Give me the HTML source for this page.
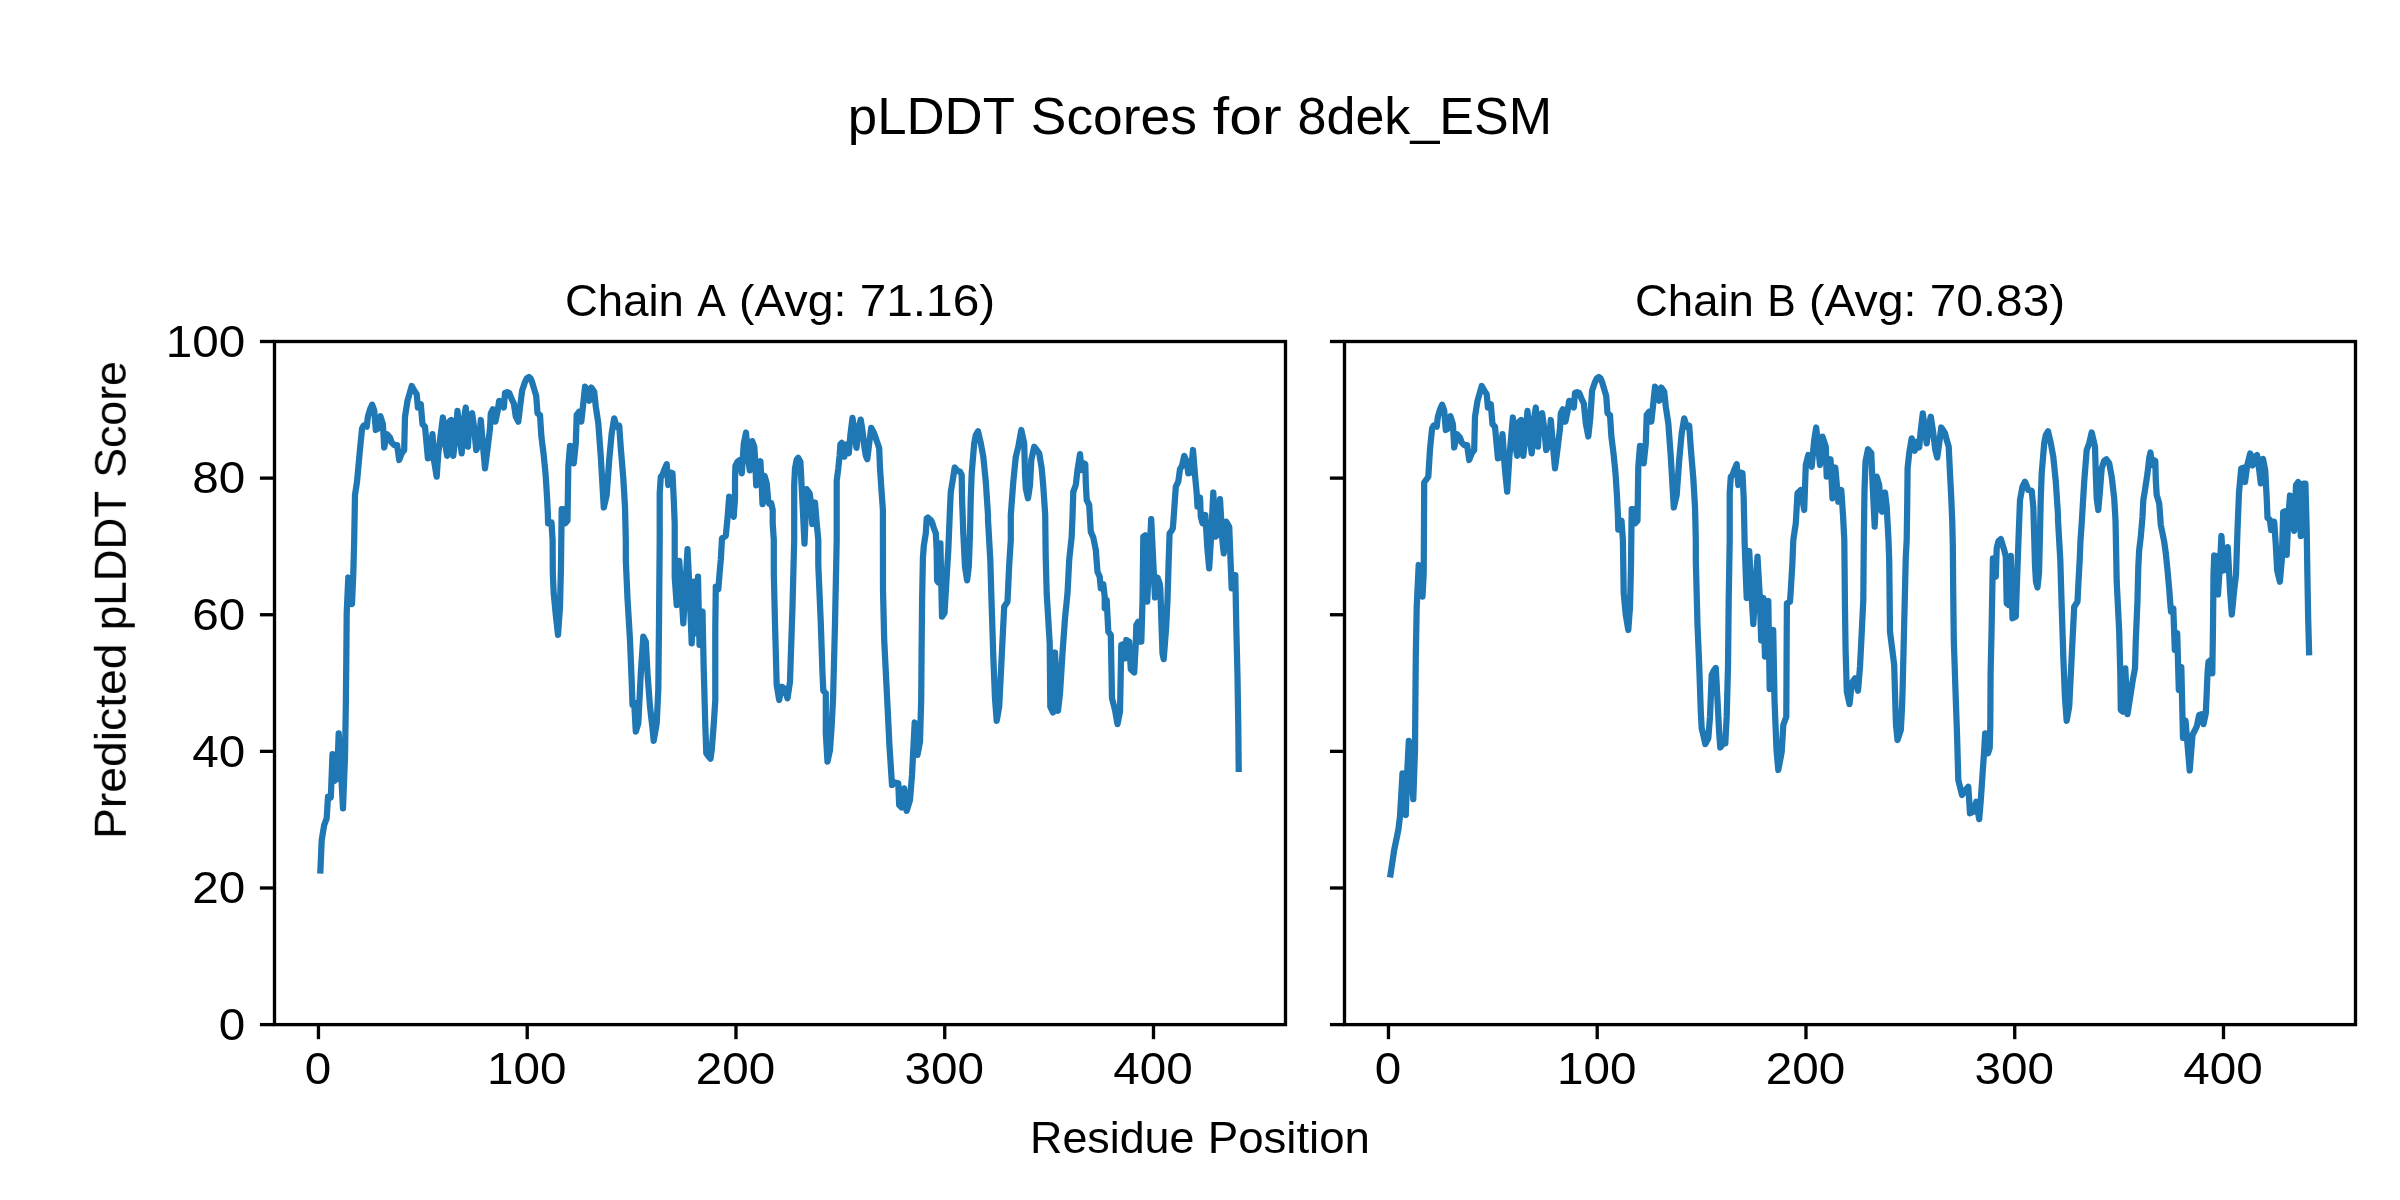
<!DOCTYPE html>
<html><head><meta charset="utf-8"><title>pLDDT Scores for 8dek_ESM</title>
<style>html,body{margin:0;padding:0;background:#fff}body{width:2400px;height:1200px;overflow:hidden}svg{display:block}text{font-family:"Liberation Sans",sans-serif;fill:#000}</style></head><body>
<svg width="2400" height="1200" viewBox="0 0 2400 1200">
<rect x="0" y="0" width="2400" height="1200" fill="#ffffff"/>
<polyline points="320.4,870.4 321.7,840.0 324.2,825.0 326.7,818.3 328.0,796.7 330.8,797.5 332.5,754.2 334.5,780.8 337.0,778.3 338.7,733.3 340.8,766.7 343.0,808.3 345.0,756.7 345.8,706.7 346.3,660.0 346.7,613.3 348.3,577.5 350.0,591.7 352.0,604.2 353.3,573.3 354.2,540.0 355.0,495.0 357.0,481.7 360.0,449.2 362.1,428.3 363.8,425.4 366.7,426.7 367.9,416.7 370.0,409.6 372.1,404.7 374.2,410.4 375.8,430.0 378.3,428.3 380.4,416.2 382.9,424.2 384.2,447.5 387.1,434.2 390.0,437.5 391.7,442.5 394.2,445.0 397.1,445.0 399.2,460.0 401.7,453.3 404.2,450.0 405.0,416.7 407.5,400.8 411.7,386.0 414.2,390.4 416.7,394.2 417.9,407.5 420.8,404.2 422.5,424.2 425.0,426.7 426.7,445.0 427.9,458.3 430.0,457.5 432.5,434.2 434.2,461.7 436.7,476.7 438.3,453.3 442.9,417.5 445.0,442.5 447.1,455.8 449.2,421.7 451.2,420.0 453.3,455.8 455.4,436.7 457.5,410.8 459.6,436.7 461.7,453.3 463.8,420.0 465.8,407.5 467.9,446.7 470.0,415.0 472.1,413.3 474.2,428.3 476.2,450.0 478.8,445.0 480.8,420.0 482.9,445.0 485.0,468.3 487.5,449.2 490.0,428.3 490.8,413.3 492.9,409.2 495.4,421.7 497.5,411.7 499.2,400.8 501.7,403.3 503.8,407.5 505.0,392.9 507.1,392.1 509.2,392.9 511.7,399.2 513.8,403.3 515.8,416.7 518.3,421.7 520.0,407.5 522.1,390.8 525.0,382.1 526.8,378.3 528.8,377.0 530.5,378.3 531.8,381.2 534.2,389.2 536.2,395.8 537.5,413.3 540.0,415.0 541.4,436.7 543.5,453.3 545.2,470.0 545.8,477.5 547.1,498.3 547.9,515.0 548.1,523.3 551.5,522.5 552.6,540.0 552.8,573.3 553.7,593.3 555.8,615.0 558.0,635.0 560.0,606.7 561.0,565.0 561.3,540.0 561.7,509.2 563.3,509.2 565.3,523.3 567.5,520.8 568.3,466.7 570.0,445.8 572.0,446.7 573.7,463.3 575.8,443.3 576.7,415.0 579.2,411.7 581.3,421.7 583.3,403.3 585.0,386.7 587.2,390.0 589.2,400.8 591.3,387.5 594.2,391.7 595.8,406.7 598.3,423.3 600.8,456.7 603.8,507.5 606.7,495.0 609.2,460.0 611.7,433.3 614.2,418.3 616.7,426.7 619.2,425.8 620.8,448.3 623.3,478.3 625.0,506.7 625.8,540.0 625.8,560.0 627.5,598.3 630.0,640.0 631.7,681.7 632.5,705.0 634.2,702.5 635.8,731.7 638.3,723.3 640.8,673.3 643.3,636.7 645.8,641.7 647.5,673.3 650.0,706.7 652.5,728.3 653.7,740.8 656.7,723.3 658.3,690.0 659.0,623.3 659.7,540.0 659.7,493.3 660.8,476.7 662.5,475.0 664.2,470.0 666.7,464.2 668.3,485.0 670.3,472.5 672.5,473.3 673.7,498.3 674.7,523.3 674.7,576.7 676.7,605.0 679.2,560.8 681.3,590.0 683.3,623.3 685.3,590.0 687.5,549.2 689.7,593.3 691.7,643.3 693.8,581.7 695.5,633.3 698.0,576.7 699.5,645.0 702.5,611.7 703.7,668.3 705.3,725.0 706.3,753.3 708.0,755.8 710.5,758.7 711.7,750.0 713.7,725.0 715.3,700.0 715.3,626.7 715.8,586.7 718.3,589.2 720.0,568.3 720.8,560.0 722.0,538.3 725.8,535.8 727.5,518.3 729.2,496.7 731.3,510.0 733.7,516.7 735.0,498.3 735.0,480.8 735.4,465.8 737.5,461.7 739.8,460.0 741.8,473.3 743.8,443.3 746.0,432.5 747.9,456.7 749.8,470.4 752.3,441.2 754.3,446.7 755.4,464.2 756.2,485.4 758.3,470.0 760.4,461.2 761.7,485.0 762.5,504.2 764.6,475.8 766.7,483.3 768.3,501.7 769.3,503.8 771.2,503.3 772.7,510.0 772.7,523.3 773.8,540.0 773.8,573.3 775.0,623.3 776.7,685.0 779.2,700.0 781.7,686.7 784.2,688.3 787.5,698.3 790.0,681.7 790.8,656.7 792.5,606.7 794.2,540.0 794.2,485.0 795.0,468.3 796.7,459.6 798.2,457.9 800.4,461.7 802.5,503.0 804.5,543.6 806.7,489.2 809.6,493.3 810.8,501.7 812.3,524.0 815.0,502.5 816.7,523.3 818.3,540.0 818.3,565.0 820.8,623.3 822.5,673.3 823.3,690.8 825.8,693.3 825.8,733.3 827.5,761.7 830.0,750.0 831.7,725.0 833.0,700.0 833.3,690.0 835.0,623.3 836.7,540.0 836.7,480.8 838.3,468.3 839.6,455.8 840.4,444.2 841.8,442.9 844.4,456.8 846.5,444.3 848.8,453.3 850.4,435.0 852.5,417.9 854.6,435.0 856.5,447.9 858.8,426.7 860.7,419.6 862.5,430.8 864.2,445.8 865.8,455.8 867.3,459.2 869.2,443.3 871.2,427.9 873.8,432.5 875.8,438.3 877.9,444.2 879.2,448.3 880.0,468.3 881.7,493.3 882.9,510.0 883.0,590.0 884.2,640.0 886.7,690.0 889.2,740.0 889.2,741.7 892.0,785.0 895.0,782.5 898.3,783.3 899.2,805.0 901.7,807.5 904.2,788.3 906.7,810.8 910.0,800.0 912.0,775.0 914.7,722.5 916.7,726.7 917.5,755.0 920.0,741.7 921.2,700.0 921.6,650.0 922.1,600.0 922.9,558.3 923.8,545.8 925.8,533.3 926.7,518.3 927.9,517.5 930.8,520.0 932.1,522.5 934.2,529.2 935.8,533.3 936.7,550.0 937.1,580.8 938.3,582.5 940.4,543.3 942.0,616.7 944.5,613.0 946.5,580.0 948.3,550.0 950.0,508.3 950.4,500.0 950.8,491.7 952.5,481.7 954.7,467.5 957.5,470.8 960.0,471.7 961.7,475.0 962.1,500.0 963.3,533.3 965.0,566.7 967.1,580.4 968.8,566.7 970.0,533.3 970.7,500.0 971.7,473.3 974.2,443.3 975.8,435.0 978.0,431.3 980.8,443.3 983.3,456.7 985.8,481.7 988.0,515.0 988.0,520.0 990.3,560.0 991.5,600.0 993.3,656.7 995.0,698.3 996.7,720.8 999.2,706.7 1001.7,656.7 1004.2,606.7 1007.5,601.7 1009.2,565.0 1010.8,540.0 1010.8,515.0 1013.3,481.7 1015.8,456.7 1018.3,446.7 1021.3,430.0 1024.2,443.3 1025.0,473.3 1025.8,488.3 1028.0,498.3 1030.0,485.0 1031.3,460.0 1034.2,446.7 1036.7,450.0 1039.2,453.3 1041.7,468.3 1043.3,486.7 1045.2,514.7 1045.7,556.7 1046.7,593.3 1049.7,643.3 1050.3,706.7 1053.0,712.5 1055.0,652.5 1058.0,710.8 1060.0,693.3 1062.5,653.3 1065.0,618.3 1067.5,593.3 1069.2,560.0 1071.7,536.7 1072.5,516.7 1073.3,491.7 1075.8,485.0 1077.5,470.0 1080.0,454.2 1081.7,470.0 1083.7,463.3 1085.3,464.2 1085.8,483.3 1086.7,500.0 1089.2,505.0 1090.8,531.7 1093.3,537.5 1095.8,550.0 1097.5,571.7 1099.7,576.7 1100.8,588.3 1103.3,584.2 1104.7,596.7 1104.7,608.3 1106.7,600.0 1108.3,631.7 1110.8,635.0 1112.0,698.3 1115.0,710.0 1117.5,724.2 1120.0,711.7 1121.3,645.0 1123.3,644.2 1125.0,658.3 1126.3,640.0 1129.2,641.7 1130.8,669.2 1134.2,672.5 1135.8,643.3 1136.3,625.0 1138.3,621.7 1139.7,641.7 1141.3,641.7 1142.5,601.7 1143.3,536.7 1145.3,535.4 1147.2,601.7 1151.2,519.2 1155.0,597.5 1157.5,577.5 1159.6,583.3 1160.3,588.3 1161.3,618.3 1162.5,653.3 1163.7,659.2 1166.2,626.7 1167.5,600.0 1168.5,566.0 1169.6,533.3 1171.5,530.8 1172.9,528.0 1174.2,510.0 1175.8,486.7 1178.3,481.7 1180.0,469.2 1182.0,465.8 1184.2,455.8 1186.7,461.7 1188.3,473.3 1190.8,472.5 1193.0,450.0 1195.0,475.0 1196.7,493.3 1197.5,506.7 1200.0,497.5 1200.8,516.7 1202.5,523.3 1205.3,515.0 1207.5,550.0 1209.2,568.3 1211.3,533.3 1213.3,492.5 1215.3,536.7 1217.5,535.0 1220.0,499.2 1222.5,541.7 1223.8,553.3 1226.3,521.7 1229.2,526.7 1230.8,566.7 1231.7,588.3 1233.3,575.0 1235.3,575.0 1236.3,626.7 1237.5,676.7 1238.3,726.7 1238.7,768.9" fill="none" stroke="#1f77b4" stroke-width="6.25" stroke-linejoin="round" stroke-linecap="square"/>
<polyline points="1390.5,874.4 1394.2,850.0 1398.3,830.0 1400.0,816.7 1402.5,773.3 1404.2,800.0 1405.8,815.0 1407.5,766.7 1408.8,740.8 1410.8,766.7 1413.3,799.2 1415.0,750.0 1415.4,700.0 1415.8,656.7 1416.7,606.7 1418.7,565.0 1420.5,581.7 1422.5,596.7 1423.7,573.3 1424.0,523.0 1424.2,482.5 1428.3,476.7 1430.0,449.2 1432.1,428.3 1433.8,425.4 1436.7,426.7 1437.9,416.7 1440.0,409.6 1442.1,404.7 1444.2,410.4 1445.8,430.0 1448.3,428.3 1450.4,416.2 1452.9,424.2 1454.2,447.5 1457.1,434.2 1460.0,437.5 1461.7,442.5 1464.2,445.0 1467.1,445.0 1469.2,460.0 1471.7,453.3 1474.2,450.0 1475.0,416.7 1477.5,400.8 1481.7,386.0 1484.2,390.4 1486.7,394.2 1487.9,407.5 1490.8,404.2 1492.5,424.2 1495.0,426.7 1496.7,445.0 1497.9,458.3 1500.0,457.5 1502.5,434.2 1504.8,468.0 1507.2,491.7 1509.3,458.0 1512.9,417.5 1515.0,442.5 1517.1,455.8 1519.2,421.7 1521.2,420.0 1523.3,455.8 1525.4,436.7 1527.5,410.8 1529.6,436.7 1531.7,453.3 1533.8,420.0 1535.8,407.5 1537.9,446.7 1540.0,415.0 1542.1,413.3 1544.2,428.3 1546.2,450.0 1548.8,445.0 1550.8,420.0 1552.9,445.0 1555.0,468.3 1557.5,449.2 1560.0,428.3 1560.8,413.3 1562.9,409.2 1565.4,421.7 1567.5,411.7 1569.2,400.8 1571.7,403.3 1573.8,407.5 1575.0,392.9 1577.1,392.1 1579.2,392.9 1581.7,399.2 1583.8,403.3 1585.8,423.3 1588.3,436.5 1590.3,418.0 1592.1,390.8 1595.0,382.1 1596.8,378.3 1598.8,377.0 1600.5,378.3 1601.8,381.2 1604.2,389.2 1606.2,395.8 1607.5,413.3 1610.0,415.0 1611.4,436.7 1613.5,453.3 1615.2,470.0 1615.8,477.5 1617.1,498.3 1617.9,515.0 1618.3,529.6 1621.5,520.8 1622.9,540.0 1623.7,593.3 1625.8,615.0 1628.3,630.0 1630.0,606.7 1631.0,565.0 1631.3,540.0 1631.7,509.2 1633.3,509.2 1635.3,523.3 1637.5,520.8 1638.3,466.7 1640.0,445.8 1642.0,446.7 1643.7,463.3 1645.8,443.3 1646.7,415.0 1649.2,411.7 1651.3,421.7 1653.3,403.3 1655.0,386.7 1657.2,390.0 1659.2,400.8 1661.3,387.5 1664.2,391.7 1665.8,406.7 1668.3,423.3 1670.8,456.7 1673.8,507.5 1676.7,495.0 1679.2,460.0 1681.7,433.3 1684.2,418.3 1686.7,426.7 1689.2,425.8 1690.8,448.3 1693.3,478.3 1695.0,506.7 1695.8,540.0 1695.8,560.0 1697.5,625.0 1699.2,665.0 1700.8,712.0 1701.7,728.3 1703.3,735.0 1705.3,744.2 1708.3,738.3 1710.0,716.7 1711.7,675.0 1713.5,671.0 1715.8,668.0 1717.5,700.0 1719.2,733.3 1720.3,747.5 1723.3,743.3 1725.3,743.3 1726.7,716.7 1728.0,666.7 1728.7,600.0 1729.7,540.0 1729.7,493.3 1730.8,476.7 1732.5,475.0 1734.2,470.0 1736.7,464.2 1738.3,485.0 1740.3,472.5 1742.5,473.3 1743.7,498.3 1744.7,545.0 1745.8,575.0 1746.7,598.0 1749.2,551.0 1751.3,590.0 1753.3,624.0 1755.3,590.0 1757.5,556.7 1759.7,595.0 1761.2,640.5 1763.3,598.0 1765.0,656.7 1768.3,601.0 1769.7,689.0 1773.2,630.0 1774.5,700.0 1776.5,750.0 1778.3,770.0 1781.7,752.0 1783.3,725.0 1786.3,716.7 1786.6,656.7 1786.9,603.3 1790.0,601.7 1790.8,590.0 1792.3,565.0 1793.3,540.0 1795.8,523.3 1797.5,493.3 1800.8,490.0 1804.2,510.0 1805.8,465.0 1808.3,455.0 1811.7,466.7 1814.2,440.0 1816.2,427.5 1820.0,465.0 1822.5,436.7 1825.8,446.7 1826.7,476.7 1830.5,459.2 1832.5,498.3 1835.3,467.5 1838.3,501.7 1841.3,490.0 1843.0,515.0 1844.3,540.0 1844.6,570.0 1845.0,610.0 1845.6,650.0 1846.8,691.7 1849.5,704.2 1851.7,683.3 1855.0,678.3 1858.0,690.8 1860.0,666.7 1861.7,633.3 1863.3,600.0 1863.8,540.0 1864.5,490.0 1865.5,461.7 1868.0,449.2 1871.3,453.3 1872.5,481.7 1874.7,526.7 1876.7,476.7 1879.2,485.0 1880.8,510.0 1882.0,511.7 1885.0,492.5 1886.7,506.7 1888.5,540.0 1889.2,560.0 1890.0,631.7 1894.2,665.0 1895.2,700.0 1896.0,725.0 1897.5,740.0 1900.8,730.0 1902.0,708.3 1902.6,690.0 1904.2,623.3 1905.8,556.7 1906.7,540.0 1907.2,505.0 1907.6,468.3 1909.2,453.3 1911.7,438.3 1914.7,450.8 1916.7,441.7 1919.2,447.5 1920.8,430.0 1922.8,413.3 1925.0,430.0 1926.7,443.3 1928.7,426.7 1930.8,416.7 1933.3,433.3 1935.3,450.0 1937.2,457.5 1939.2,443.3 1941.3,427.5 1945.0,433.3 1946.7,440.0 1948.7,446.7 1950.0,473.3 1951.3,498.3 1952.3,523.3 1952.8,545.0 1953.2,590.0 1953.8,640.0 1955.8,700.0 1957.0,733.3 1958.3,780.0 1962.0,795.0 1965.0,790.8 1968.3,786.7 1970.0,813.3 1973.3,811.7 1976.3,801.7 1979.2,819.2 1980.8,800.0 1982.5,775.0 1984.2,750.0 1985.2,733.3 1986.7,735.0 1988.0,753.3 1989.7,748.0 1990.3,725.0 1990.6,673.3 1991.7,623.3 1992.5,580.0 1992.9,558.3 1995.8,576.7 1996.7,548.3 1998.5,541.0 2000.8,539.0 2004.2,550.0 2005.8,556.7 2006.7,603.3 2008.7,605.0 2010.8,555.8 2012.5,618.3 2015.8,616.7 2016.7,590.0 2018.3,545.0 2020.0,500.0 2022.5,486.7 2025.0,481.7 2028.3,490.0 2031.7,490.8 2033.3,506.7 2034.3,540.0 2035.0,565.0 2036.0,581.7 2037.5,587.5 2039.0,573.3 2040.0,533.3 2040.7,500.0 2041.7,473.3 2044.2,443.3 2045.8,435.0 2048.0,431.3 2050.8,443.3 2053.3,456.7 2055.8,481.7 2058.0,515.0 2058.0,520.0 2060.3,560.0 2061.5,600.0 2063.3,656.7 2065.0,698.3 2066.7,720.8 2069.2,706.7 2071.7,656.7 2074.2,606.7 2077.5,601.7 2078.3,585.0 2079.7,560.0 2080.5,540.0 2081.7,523.3 2084.2,481.7 2086.7,450.0 2089.2,443.3 2091.7,432.5 2095.0,446.7 2095.8,473.3 2096.7,498.3 2098.3,510.0 2100.0,490.0 2101.7,468.3 2104.2,460.8 2106.3,459.2 2109.2,463.3 2111.7,476.7 2114.2,498.3 2115.5,520.0 2116.0,545.0 2116.7,581.7 2119.2,631.7 2120.3,673.3 2120.8,710.0 2123.0,711.7 2125.3,668.3 2127.5,714.2 2130.0,698.3 2132.5,681.7 2135.0,668.3 2135.8,640.0 2137.5,600.0 2138.3,566.7 2139.2,550.0 2140.8,536.7 2142.5,516.7 2143.3,500.0 2145.0,490.0 2147.5,473.3 2149.2,458.3 2150.5,452.5 2152.0,465.0 2153.3,460.0 2155.3,460.8 2155.8,480.0 2156.7,495.0 2159.2,503.3 2160.8,525.0 2164.2,541.7 2165.8,553.3 2167.5,570.0 2169.3,590.0 2170.0,600.0 2171.0,611.5 2173.3,608.5 2174.8,650.0 2177.2,633.0 2178.8,690.0 2181.3,667.0 2183.0,738.0 2185.5,720.5 2189.7,770.5 2192.5,735.0 2196.7,726.7 2199.2,715.0 2201.7,714.2 2203.5,724.2 2205.8,713.3 2206.7,693.3 2207.5,673.3 2208.5,661.7 2210.8,660.0 2212.3,673.3 2213.0,626.7 2213.5,575.0 2214.2,555.5 2216.5,556.2 2218.0,594.5 2220.2,560.0 2221.4,536.0 2223.7,570.5 2225.8,566.0 2227.8,547.2 2230.0,590.0 2231.8,614.5 2234.2,590.0 2236.0,575.0 2237.5,530.0 2239.0,492.5 2241.2,468.5 2243.5,467.8 2245.0,482.0 2247.2,465.5 2250.2,453.5 2252.5,465.5 2254.8,456.5 2257.0,455.0 2259.2,470.0 2260.8,483.5 2263.0,458.8 2265.2,470.0 2266.8,500.0 2267.5,518.0 2269.8,519.5 2271.2,530.0 2274.2,521.8 2275.8,545.0 2277.2,570.5 2279.9,581.8 2281.8,560.0 2283.2,512.0 2284.8,511.2 2286.7,554.8 2288.5,515.0 2290.0,495.5 2292.2,515.0 2294.2,530.8 2296.0,485.0 2298.2,482.0 2300.8,536.0 2303.5,483.5 2305.4,483.5 2306.7,530.0 2307.4,575.0 2308.2,620.0 2309.1,652.2" fill="none" stroke="#1f77b4" stroke-width="6.25" stroke-linejoin="round" stroke-linecap="square"/>
<rect x="274.5" y="341.5" width="1011.0" height="683.0999999999999" fill="none" stroke="#000" stroke-width="3.33" stroke-linejoin="miter"/>
<line x1="318.45" y1="1024.6" x2="318.45" y2="1039.18" stroke="#000" stroke-width="3.33"/>
<line x1="527.21" y1="1024.6" x2="527.21" y2="1039.18" stroke="#000" stroke-width="3.33"/>
<line x1="735.97" y1="1024.6" x2="735.97" y2="1039.18" stroke="#000" stroke-width="3.33"/>
<line x1="944.73" y1="1024.6" x2="944.73" y2="1039.18" stroke="#000" stroke-width="3.33"/>
<line x1="1153.49" y1="1024.6" x2="1153.49" y2="1039.18" stroke="#000" stroke-width="3.33"/>
<line x1="259.92" y1="1024.60" x2="274.5" y2="1024.60" stroke="#000" stroke-width="3.33"/>
<line x1="259.92" y1="887.98" x2="274.5" y2="887.98" stroke="#000" stroke-width="3.33"/>
<line x1="259.92" y1="751.36" x2="274.5" y2="751.36" stroke="#000" stroke-width="3.33"/>
<line x1="259.92" y1="614.74" x2="274.5" y2="614.74" stroke="#000" stroke-width="3.33"/>
<line x1="259.92" y1="478.12" x2="274.5" y2="478.12" stroke="#000" stroke-width="3.33"/>
<line x1="259.92" y1="341.50" x2="274.5" y2="341.50" stroke="#000" stroke-width="3.33"/>
<rect x="1344.5" y="341.5" width="1011.0" height="683.0999999999999" fill="none" stroke="#000" stroke-width="3.33" stroke-linejoin="miter"/>
<line x1="1388.45" y1="1024.6" x2="1388.45" y2="1039.18" stroke="#000" stroke-width="3.33"/>
<line x1="1597.21" y1="1024.6" x2="1597.21" y2="1039.18" stroke="#000" stroke-width="3.33"/>
<line x1="1805.97" y1="1024.6" x2="1805.97" y2="1039.18" stroke="#000" stroke-width="3.33"/>
<line x1="2014.73" y1="1024.6" x2="2014.73" y2="1039.18" stroke="#000" stroke-width="3.33"/>
<line x1="2223.49" y1="1024.6" x2="2223.49" y2="1039.18" stroke="#000" stroke-width="3.33"/>
<line x1="1329.92" y1="1024.60" x2="1344.5" y2="1024.60" stroke="#000" stroke-width="3.33"/>
<line x1="1329.92" y1="887.98" x2="1344.5" y2="887.98" stroke="#000" stroke-width="3.33"/>
<line x1="1329.92" y1="751.36" x2="1344.5" y2="751.36" stroke="#000" stroke-width="3.33"/>
<line x1="1329.92" y1="614.74" x2="1344.5" y2="614.74" stroke="#000" stroke-width="3.33"/>
<line x1="1329.92" y1="478.12" x2="1344.5" y2="478.12" stroke="#000" stroke-width="3.33"/>
<line x1="1329.92" y1="341.50" x2="1344.5" y2="341.50" stroke="#000" stroke-width="3.33"/>
<g opacity="0.999">
<text x="304.70" y="1083.60" font-size="44.2" textLength="26.5" lengthAdjust="spacingAndGlyphs">0</text>
<text x="486.96" y="1083.60" font-size="44.2" textLength="79.5" lengthAdjust="spacingAndGlyphs">100</text>
<text x="695.72" y="1083.60" font-size="44.2" textLength="79.5" lengthAdjust="spacingAndGlyphs">200</text>
<text x="904.48" y="1083.60" font-size="44.2" textLength="79.5" lengthAdjust="spacingAndGlyphs">300</text>
<text x="1113.24" y="1083.60" font-size="44.2" textLength="79.5" lengthAdjust="spacingAndGlyphs">400</text>
<text x="1374.70" y="1083.60" font-size="44.2" textLength="26.5" lengthAdjust="spacingAndGlyphs">0</text>
<text x="1556.96" y="1083.60" font-size="44.2" textLength="79.5" lengthAdjust="spacingAndGlyphs">100</text>
<text x="1765.72" y="1083.60" font-size="44.2" textLength="79.5" lengthAdjust="spacingAndGlyphs">200</text>
<text x="1974.48" y="1083.60" font-size="44.2" textLength="79.5" lengthAdjust="spacingAndGlyphs">300</text>
<text x="2183.24" y="1083.60" font-size="44.2" textLength="79.5" lengthAdjust="spacingAndGlyphs">400</text>
<text x="218.70" y="1039.80" font-size="44.2" textLength="26.5" lengthAdjust="spacingAndGlyphs">0</text>
<text x="192.20" y="903.18" font-size="44.2" textLength="53.0" lengthAdjust="spacingAndGlyphs">20</text>
<text x="192.20" y="766.56" font-size="44.2" textLength="53.0" lengthAdjust="spacingAndGlyphs">40</text>
<text x="192.20" y="629.94" font-size="44.2" textLength="53.0" lengthAdjust="spacingAndGlyphs">60</text>
<text x="192.20" y="493.32" font-size="44.2" textLength="53.0" lengthAdjust="spacingAndGlyphs">80</text>
<text x="165.70" y="356.70" font-size="44.2" textLength="79.5" lengthAdjust="spacingAndGlyphs">100</text>
<text x="564.95" y="316.00" font-size="44.2" textLength="119.0" lengthAdjust="spacingAndGlyphs">Chain</text>
<text x="697.15" y="316.00" font-size="44.2" textLength="28.5" lengthAdjust="spacingAndGlyphs">A</text>
<text x="738.95" y="316.00" font-size="44.2" textLength="107.4" lengthAdjust="spacingAndGlyphs">(Avg:</text>
<text x="859.65" y="316.00" font-size="44.2" textLength="135.5" lengthAdjust="spacingAndGlyphs">71.16)</text>
<text x="1634.95" y="316.00" font-size="44.2" textLength="119.0" lengthAdjust="spacingAndGlyphs">Chain</text>
<text x="1767.15" y="316.00" font-size="44.2" textLength="28.5" lengthAdjust="spacingAndGlyphs">B</text>
<text x="1808.95" y="316.00" font-size="44.2" textLength="107.4" lengthAdjust="spacingAndGlyphs">(Avg:</text>
<text x="1929.65" y="316.00" font-size="44.2" textLength="135.5" lengthAdjust="spacingAndGlyphs">70.83)</text>
<text x="847.80" y="134.20" font-size="52.0" textLength="167.1" lengthAdjust="spacingAndGlyphs">pLDDT</text>
<text x="1030.80" y="134.20" font-size="52.0" textLength="166.1" lengthAdjust="spacingAndGlyphs">Scores</text>
<text x="1212.80" y="134.20" font-size="52.0" textLength="68.8" lengthAdjust="spacingAndGlyphs">for</text>
<text x="1297.50" y="134.20" font-size="52.0" textLength="254.7" lengthAdjust="spacingAndGlyphs">8dek_ESM</text>
<text x="1030.05" y="1152.50" font-size="44.2" textLength="164.4" lengthAdjust="spacingAndGlyphs">Residue</text>
<text x="1207.75" y="1152.50" font-size="44.2" textLength="162.2" lengthAdjust="spacingAndGlyphs">Position</text>
<g transform="translate(125.8,838.95) rotate(-90)">
<text x="0.00" y="0.00" font-size="44.2" textLength="195.5" lengthAdjust="spacingAndGlyphs">Predicted</text>
<text x="208.80" y="0.00" font-size="44.2" textLength="139.2" lengthAdjust="spacingAndGlyphs">pLDDT</text>
<text x="361.20" y="0.00" font-size="44.2" textLength="116.7" lengthAdjust="spacingAndGlyphs">Score</text>
</g>
</g>
</svg></body></html>
